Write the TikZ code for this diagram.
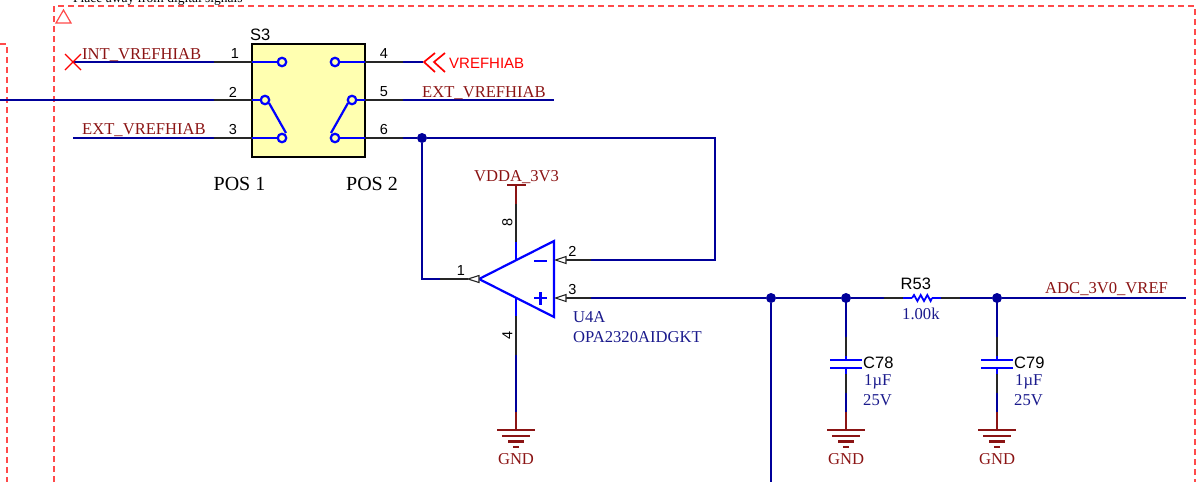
\documentclass[tikz,border=0pt]{standalone}
\usepackage{fontspec}
\setmainfont{Liberation Serif}
\setsansfont{Liberation Sans}
\definecolor{netnavy}{HTML}{00009A}
\definecolor{symblue}{HTML}{0000FF}
\definecolor{maroon}{HTML}{8B1414}
\definecolor{dnavy}{HTML}{1A1A8C}
\definecolor{fr}{HTML}{FF4A4A}
\definecolor{boxy}{HTML}{FFFFB0}
\tikzset{
  wire/.style={draw=netnavy,line width=2.2pt},
  pinw/.style={draw=black!85,line width=2.2pt},
  sym/.style={draw=symblue,line width=2.2pt},
  pwr/.style={draw=maroon,line width=2.2pt},
  framed/.style={draw=fr,line width=1.2pt,dash pattern=on 6pt off 4pt},
  dotj/.style={circle,fill=netnavy,draw=none,minimum size=10pt,inner sep=0pt},
  termc/.style={circle,draw=symblue,line width=2.2pt,fill=none,minimum size=8.5pt,inner sep=0pt},
  netl/.style={font=\fontsize{16.6pt}{18pt}\selectfont\rmfamily,text=maroon,inner sep=0pt,anchor=west},
  vall/.style={font=\fontsize{16.6pt}{18pt}\selectfont\rmfamily,text=dnavy,inner sep=0pt,anchor=west},
  desl/.style={font=\fontsize{16.5pt}{18pt}\selectfont\sffamily,text=black,inner sep=0pt,anchor=west},
  pinnum/.style={font=\fontsize{14.5pt}{16pt}\selectfont\sffamily,text=black,inner sep=0pt},
  poslabel/.style={font=\fontsize{20pt}{21pt}\selectfont\rmfamily,text=black,inner sep=0pt},
  parrow/.style={draw=black!85,line width=1.1pt,fill=white},
}
\newcommand{\gndsym}[1]{%
  \draw[pwr] (#1) ++(-19,0) -- ++(38,0);
  \draw[pwr] (#1) ++(-14,6) -- ++(28,0);
  \draw[pwr] (#1) ++(-8,11.5) -- ++(16,0);
  \draw[pwr] (#1) ++(-3,17) -- ++(6,0);
}
\begin{document}
\begin{tikzpicture}[x=1pt,y=-1pt]
\useasboundingbox (0,0) rectangle (1196,482);
% frames
\draw[framed] (54,482) -- (54,6) -- (1195,6) -- (1195,482);
\draw[framed] (0,44) -- (7,44) -- (7,482);
\draw[draw=fr,line width=1.2pt] (56,23) -- (63.5,10) -- (71,23) -- cycle;
\node[font=\fontsize{13.5pt}{15pt}\selectfont\rmfamily,text=black,inner sep=0pt,anchor=west] (note) at (73,-1) {Place away from digital signals};
% switch box
\node[draw=black,line width=2.2pt,fill=boxy,minimum width=113pt,minimum height=113pt,inner sep=0pt] (S3) at (308.5,100.5) {};
\node[desl] (S3lab) at (250,34.5) {S3};
% coordinates
\coordinate (p1a) at (73,62); \coordinate (p1b) at (214,62); \coordinate (p1c) at (252,62);
\coordinate (p2a) at (0,100); \coordinate (p2b) at (214,100); \coordinate (p2c) at (252,100);
\coordinate (p3a) at (73,138); \coordinate (p3b) at (214,138); \coordinate (p3c) at (252,138);
\coordinate (p4c) at (365,62); \coordinate (p4b) at (403,62); \coordinate (p4a) at (423,62);
\coordinate (p5c) at (365,100); \coordinate (p5b) at (403,100); \coordinate (p5a) at (554,100);
\coordinate (p6c) at (365,138); \coordinate (p6b) at (403,138);
\coordinate (fbtr) at (715,138); \coordinate (fbbr) at (715,260);
\node[termc] (t1) at (282,62) {}; \node[termc] (t2) at (265,100) {}; \node[termc] (t3) at (282,138) {};
\node[termc] (t4) at (335,62) {}; \node[termc] (t5) at (352,100) {}; \node[termc] (t6) at (335,138) {};
\draw[wire] (p1a) -- (p1b); \draw[pinw] (p1b) -- (p1c); \draw[sym] (p1c) -- (t1);
\draw[wire] (p2a) -- (p2b); \draw[pinw] (p2b) -- (p2c); \draw[sym] (p2c) -- (t2);
\draw[wire] (p3a) -- (p3b); \draw[pinw] (p3b) -- (p3c); \draw[sym] (p3c) -- (t3);
\draw[sym] (t4) -- (p4c); \draw[pinw] (p4c) -- (p4b); \draw[wire] (p4b) -- (p4a);
\draw[sym] (t5) -- (p5c); \draw[pinw] (p5c) -- (p5b); \draw[wire] (p5b) -- (p5a);
\draw[sym] (t6) -- (p6c); \draw[pinw] (p6c) -- (p6b);
\draw[sym] (269,103) -- (286,133);
\draw[sym] (348,103) -- (331,133);
% no-connect and port
\draw[draw=red,line width=1.1pt] (65,54) -- (81,70) (65,70) -- (81,54);
\draw[draw=red,line width=1.7pt] (435,53) -- (424,62) -- (435,72);
\draw[draw=red,line width=1.7pt] (445,53) -- (434,62) -- (445,72);
% net labels
\node[netl] (n1) at (82,54.7) {INT\_VREFHIAB};
\node[netl] (n3) at (82,129.7) {EXT\_VREFHIAB};
\node[netl] (n5) at (422,92.7) {EXT\_VREFHIAB};
\node[font=\fontsize{15pt}{16pt}\selectfont\sffamily,text=red,inner sep=0pt,anchor=west] (n4) at (449,63.5) {VREFHIAB};
\node[pinnum] (pn1) at (235,54) {1};
\node[pinnum] (pn2) at (233,92) {2};
\node[pinnum] (pn3) at (233,130) {3};
\node[pinnum] (pn4) at (384,54) {4};
\node[pinnum] (pn5) at (384,92) {5};
\node[pinnum] (pn6) at (384,130) {6};
\node[poslabel] (pos1) at (239.5,184) {POS 1};
\node[poslabel] (pos2) at (372,184) {POS 2};
% opamp
\coordinate (oa1) at (479,279); \coordinate (oa2) at (554,241); \coordinate (oa3) at (554,317);
\draw[sym,line join=miter] (oa1) -- (oa2) -- (oa3) -- cycle;
\draw[sym] (534,261) -- (547,261);
\draw[sym] (534,298) -- (547,298) (540.5,292) -- (540.5,305);
% junctions
\node[dotj] (j6) at (422,138) {};
\node[dotj] (j1) at (771,298) {};
\node[dotj] (j2) at (846,298) {};
\node[dotj] (j3) at (997,298) {};
\draw[wire] (p6b) -- (j6); \draw[wire] (j6) -- (fbtr) -- (fbbr) -- (591,260);
\coordinate (o1w) at (440,279); \coordinate (o1b) at (468,279);
\draw[wire] (j6) -- (422,279) -- (o1w);
\draw[pinw] (o1w) -- (o1b);
\draw[parrow] (468,279) -- (479,275.5) -- (479,282.5) -- cycle;
\draw[pinw] (591,260) -- (566,260);
\draw[parrow] (555.5,260) -- (566,256.5) -- (566,263.5) -- cycle;
\draw[pinw] (591,298) -- (566,298);
\draw[parrow] (555.5,298) -- (566,294.5) -- (566,301.5) -- cycle;
\coordinate (o3w) at (591,298);
\draw[wire] (o3w) -- (j1); \draw[wire] (j1) -- (j2);
\coordinate (j1end) at (771,482);
\draw[wire] (j1) -- (j1end);
% R53
\coordinate (r1) at (884,298); \coordinate (r2) at (903,298); \coordinate (r3) at (912,298);
\coordinate (r4) at (932,298); \coordinate (r5) at (941,298); \coordinate (r6) at (960,298);
\coordinate (adc) at (1186,298);
\draw[wire] (j2) -- (r1); \draw[pinw] (r1) -- (r2); \draw[sym] (r2) -- (r3);
\draw[sym,line width=1.8pt] (r3) -- ++(2,-3) -- ++(3.4,6) -- ++(3.3,-6) -- ++(3.3,6) -- ++(3.3,-6) -- ++(3.3,6) -- (r4);
\draw[sym] (r4) -- (r5); \draw[pinw] (r5) -- (r6); \draw[wire] (r6) -- (j3); \draw[wire] (j3) -- (adc);
\node[desl] (R53) at (900.5,284) {R53};
\node[vall] (R53v) at (902,313.5) {1.00k};
\node[netl] (adcl) at (1045,289) {ADC\_3V0\_VREF};
% caps
\foreach \x/\n/\lx in {846/C78/863,997/C79/1014}{
  \draw[wire] (\x,298) -- (\x,337);
  \draw[pinw] (\x,337) -- (\x,356);
  \draw[sym] (\x,356) -- (\x,360);
  \draw[sym] (\x-16,360) -- (\x+16,360);
  \draw[sym] (\x-16,368) -- (\x+16,368);
  \draw[sym] (\x,368) -- (\x,374);
  \draw[pinw] (\x,374) -- (\x,393);
  \draw[wire] (\x,393) -- (\x,412);
  \draw[pwr] (\x,412) -- (\x,430);
  \gndsym{\x,430}
  \node[netl,anchor=center] at (\x,459) {GND};
  \node[desl] at (\lx,362.5) {\n};
  \node[vall] at (\lx+1,381.5) {1µF};
  \node[vall] at (\lx,400.5) {25V};
}
% opamp supplies
\coordinate (v8) at (516,185);
\draw[pwr] (507,185) -- (526,185);
\draw[pwr] (v8) -- (516,204);
\draw[pinw] (516,204) -- (516,242);
\draw[sym] (516,242) -- (516,260);
\draw[sym] (516,298) -- (516,316);
\draw[pinw] (516,316) -- (516,355);
\draw[wire] (516,355) -- (516,412);
\draw[pwr] (516,412) -- (516,430);
\gndsym{516,430}
\node[netl,anchor=center] (gnd1) at (516,459) {GND};
\node[netl] (vdda) at (474,176.7) {VDDA\_3V3};
\node[pinnum,rotate=90] (pn8) at (507.5,222) {8};
\node[pinnum,rotate=90] (pn41) at (507.5,335) {4};
\node[pinnum] (op1) at (461,271) {1};
\node[pinnum] (op2) at (572.5,251.5) {2};
\node[pinnum] (op3) at (572.5,290) {3};
\node[vall] (u4a) at (573,317.5) {U4A};
\node[vall] (opn) at (573,337.5) {OPA2320AIDGKT};
\end{tikzpicture}
\end{document}
